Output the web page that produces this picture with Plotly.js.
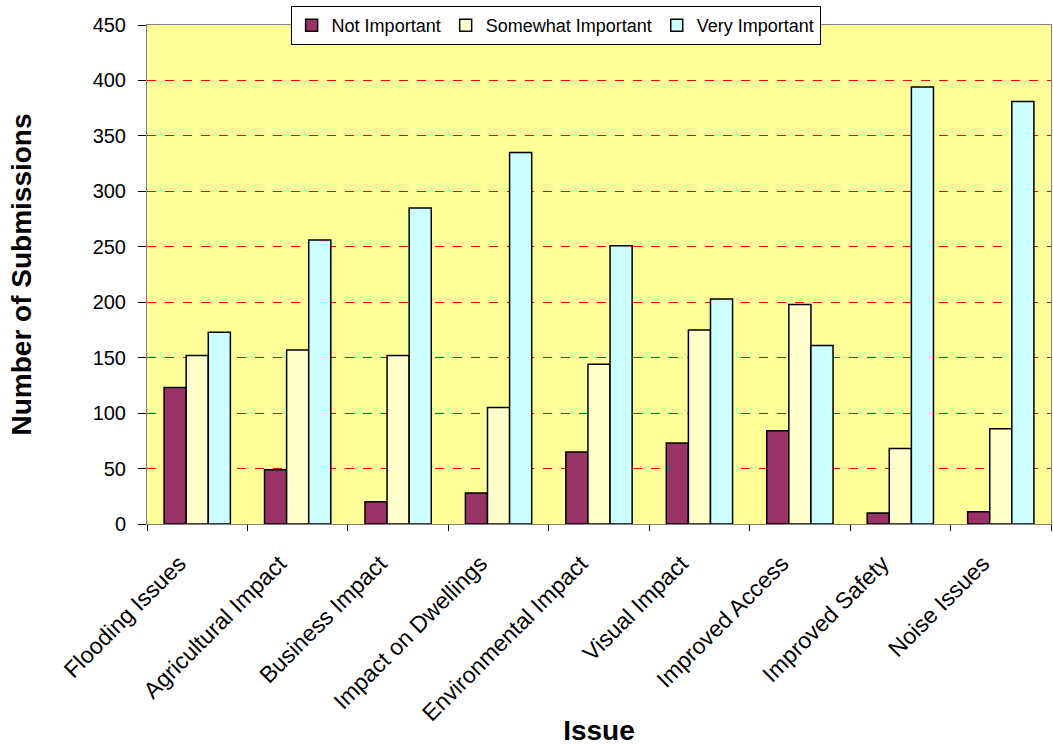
<!DOCTYPE html>
<html>
<head>
<meta charset="utf-8">
<script src="https://cdn.plot.ly/plotly-3.0.1.min.js"></script>
<style>html,body{margin:0;padding:0;background:#fff;}#chart{width:1053px;height:746px;}</style>
</head>
<body>
<div id="chart"></div>
<script>
const categories = ["Flooding Issues","Agricultural Impact","Business Impact","Impact on Dwellings","Environmental Impact","Visual Impact","Improved Access","Improved Safety","Noise Issues"];
const notImportant = [123, 49, 20, 28, 65, 73, 84, 10, 11];
const somewhatImportant = [152, 157, 152, 105, 144, 175, 198, 68, 86];
const veryImportant = [173, 256, 285, 335, 251, 203, 161, 394, 381];
const seriesNames = ["Not Important", "Somewhat Important", "Very Important"];
const yTicks = [0, 50, 100, 150, 200, 250, 300, 350, 400, 450];

const colors = ["#993366", "#FFFFCC", "#CCFFFF"];
const seriesData = [notImportant, somewhatImportant, veryImportant];
const traces = seriesData.map((vals, i) => ({
  type: "bar",
  name: seriesNames[i],
  x: categories,
  y: vals,
  marker: {color: colors[i], line: {color: "#000000", width: 1.5}},
  hoverinfo: "x+y+name"
}));

const font = "Liberation Sans, Arial, sans-serif";
const layout = {
  width: 1053,
  height: 746,
  margin: {l: 147, r: 2, t: 25, b: 222},
  paper_bgcolor: "#FFFFFF",
  plot_bgcolor: "#FFFF99",
  barmode: "group",
  bargap: 0.34,
  bargroupgap: 0,
  font: {family: font, size: 20, color: "#000000"},
  showlegend: true,
  legend: {
    orientation: "h",
    x: 0.452, xanchor: "center",
    y: 1.038, yanchor: "top",
    bgcolor: "#FFFFFF",
    bordercolor: "#000000",
    borderwidth: 1,
    font: {family: font, size: 18},
    itemwidth: 20,
    tracegroupgap: 0,
    traceorder: "normal"
  },
  xaxis: {
    type: "category",
    tickangle: -45,
    ticks: "outside",
    tickson: "boundaries",
    ticklen: 6,
    tickcolor: "#000000",
    ticklabelstandoff: 16,
    ticklabelshift: -18,
    showline: true,
    linecolor: "#808080",
    linewidth: 1,
    mirror: true,
    showgrid: false,
    tickfont: {family: font, size: 23},
    title: {text: "Issue", font: {family: font, size: 28, color: "#000000", weight: "bold"}, standoff: 6}
  },
  yaxis: {
    range: [0, 450],
    tickvals: yTicks,
    ticktext: yTicks.map(String),
    ticks: "outside",
    ticklen: 8,
    tickcolor: "#000000",
    ticklabelstandoff: 8,
    showline: true,
    linecolor: "#808080",
    linewidth: 1,
    mirror: true,
    showgrid: true,
    gridcolor: "#FF0000",
    griddash: "dash",
    gridwidth: 1,
    zeroline: false,
    tickfont: {family: font, size: 20},
    title: {text: "Number of Submissions", font: {family: font, size: 28, color: "#000000", weight: "bold"}, standoff: 52}
  }
};

Plotly.newPlot("chart", traces, layout, {displayModeBar: false, staticPlot: true});
</script>
</body>
</html>
